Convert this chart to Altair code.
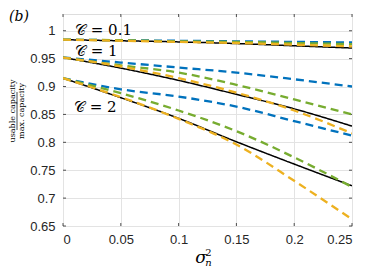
import altair as alt
import pandas as pd

# x values (noise variance sigma_n^2)
sigma2 = [0.0, 0.05, 0.10, 0.15, 0.20, 0.25]
groups = ["C=0.1", "C=1", "C=2"]

# series values per group
exact = {
    "C=0.1": [0.984, 0.982, 0.980, 0.977, 0.973, 0.969],
    "C=1":   [0.952, 0.933, 0.911, 0.886, 0.860, 0.829],
    "C=2":   [0.915, 0.880, 0.843, 0.801, 0.761, 0.722],
}
blue = {
    "C=0.1": [0.984, 0.983, 0.982, 0.981, 0.980, 0.979],
    "C=1":   [0.952, 0.943, 0.934, 0.925, 0.913, 0.900],
    "C=2":   [0.915, 0.895, 0.882, 0.864, 0.838, 0.812],
}
green = {
    "C=0.1": [0.984, 0.983, 0.981, 0.980, 0.978, 0.976],
    "C=1":   [0.952, 0.938, 0.925, 0.903, 0.877, 0.850],
    "C=2":   [0.915, 0.888, 0.857, 0.820, 0.773, 0.720],
}
yellow = {
    "C=0.1": [0.984, 0.982, 0.980, 0.978, 0.975, 0.972],
    "C=1":   [0.952, 0.936, 0.915, 0.889, 0.857, 0.816],
    "C=2":   [0.915, 0.881, 0.842, 0.796, 0.731, 0.662],
}

x_ticks = [0, 0.05, 0.1, 0.15, 0.2, 0.25]
y_ticks = [0.65, 0.7, 0.75, 0.8, 0.85, 0.9, 0.95, 1.0]

series = [
    ("exact", exact, "#000000", [1, 0], 1.5),
    ("blue", blue, "#0072BD", [8, 5], 2.3),
    ("green", green, "#77AC30", [8, 5], 2.3),
    ("yellow", yellow, "#EDB120", [8, 5], 2.3),
]

xs = alt.Scale(domain=[0, 0.25], nice=False, zero=False)
ys = alt.Scale(domain=[0.65, 1.03], nice=False, zero=False)

W, H = 289, 212
FONT = "Liberation Sans"
SERIF = "DejaVu Serif"

XA = alt.Axis(values=x_ticks, format=".2~f", labelPadding=7, grid=True, gridColor="#e3e3e3",
              tickSize=0, labelFontSize=13, labelFont=FONT, labelColor="#262626",
              domain=False, labelOverlap=False, title=None)
YA = alt.Axis(values=y_ticks, format=".2~f", labelPadding=8, grid=True, gridColor="#e3e3e3",
              tickSize=0, labelFontSize=13, labelFont=FONT, labelColor="#262626",
              domain=False, labelOverlap=False, title=None)


def X(f="x"):
    return alt.X(f + ":Q", scale=xs, axis=XA, title=None)


def Y(f="y"):
    return alt.Y(f + ":Q", scale=ys, axis=YA, title=None)


layers = []

# inner ticks (MATLAB style)
xt = pd.DataFrame({"x": x_ticks})
yt = pd.DataFrame({"y": y_ticks})
layers.append(alt.Chart(xt).mark_rule(color="#262626", strokeWidth=0.8).encode(
    x=X(), y=alt.value(H), y2=alt.value(H - 3)))
layers.append(alt.Chart(xt).mark_rule(color="#262626", strokeWidth=0.8).encode(
    x=X(), y=alt.value(0), y2=alt.value(3)))
layers.append(alt.Chart(yt).mark_rule(color="#262626", strokeWidth=0.8).encode(
    y=Y(), x=alt.value(0), x2=alt.value(3)))
layers.append(alt.Chart(yt).mark_rule(color="#262626", strokeWidth=0.8).encode(
    y=Y(), x=alt.value(W), x2=alt.value(W - 3)))

for name, d, col, dash, sw in series:
    rows = []
    for g in groups:
        for xv, yv in zip(sigma2, d[g]):
            rows.append({"x": xv, "y": yv, "g": g})
    df = pd.DataFrame(rows)
    layers.append(
        alt.Chart(df).mark_line(color=col, strokeDash=dash, strokeWidth=sw,
                                interpolate="monotone", clip=True).encode(
            x=X(), y=Y(), detail="g:N")
    )


def txt(s, x, y, size, font=SERIF, style="normal", angle=0, align="left", baseline="middle"):
    return alt.Chart(pd.DataFrame({"t": [s]})).mark_text(
        font=font, fontSize=size, fontStyle=style, align=align, baseline=baseline,
        angle=angle, color="#000000").encode(text="t:N", x=alt.value(x), y=alt.value(y))


layers.append(txt("\U0001D49E = 0.1", 12, 16, 15))
layers.append(txt("\U0001D49E = 1", 12, 37, 15))
layers.append(txt("\U0001D49E = 2", 11, 93, 15))
layers.append(txt("(b)", -54, -4, 14, style="italic", baseline="top"))
layers.append(txt("σ", 138, 244, 17, style="italic", align="center"))
layers.append(txt("2", 145.5, 238.5, 10, align="center"))
layers.append(txt("n", 145.5, 249, 10, style="italic", align="center"))
layers.append(txt("usable capacity", -50.5, 97, 8, angle=270, align="center"))
layers.append(txt("max. capacity", -41.5, 97, 8, angle=270, align="center"))
layers.append(alt.Chart(pd.DataFrame({"a": [0]})).mark_rule(color="#000", strokeWidth=0.7).encode(
    x=alt.value(-46), y=alt.value(78), y2=alt.value(116)))

chart = alt.layer(*layers).properties(
    width=W, height=H,
    autosize=alt.AutoSizeParams(type="none"),
    padding={"left": 55, "top": 6, "right": 6, "bottom": 44},
).configure_view(stroke="#4a4a4a", strokeWidth=1).configure(background="white")

chart.save("out.html", embed_options={"renderer": "svg", "actions": False})
